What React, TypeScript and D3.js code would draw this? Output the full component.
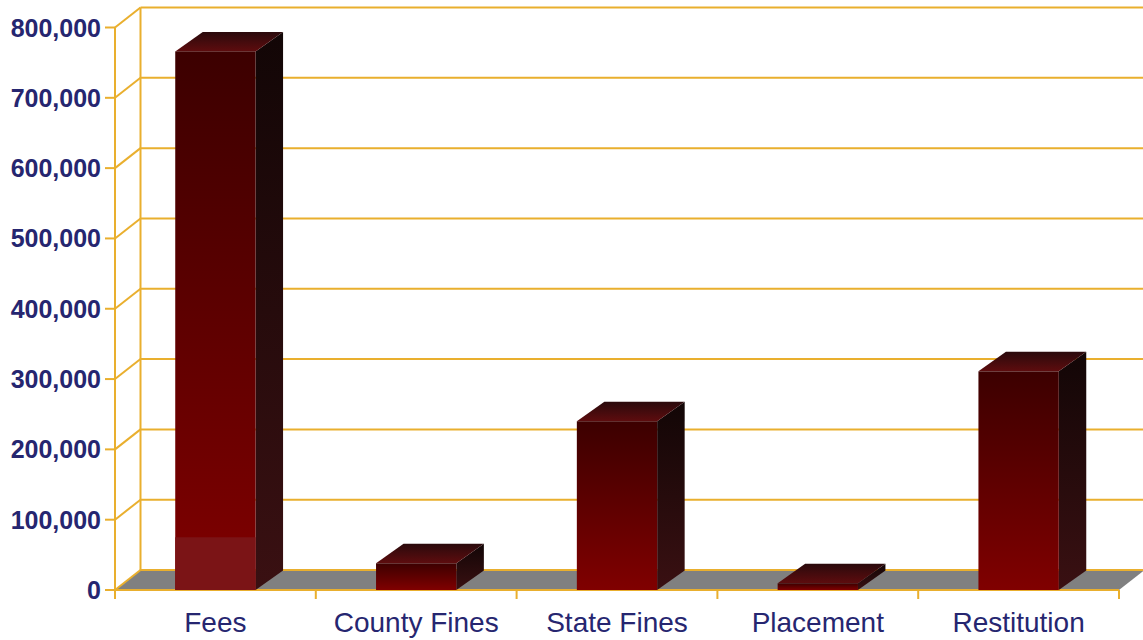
import React from "react";
import * as d3 from "d3";

const categories = ["Fees", "County Fines", "State Fines", "Placement", "Restitution"];
const values = [766000, 38000, 240000, 9500, 311000];
const lowerSegment = [75000, 0, 0, 0, 0];
const yTicks = [0, 100000, 200000, 300000, 400000, 500000, 600000, 700000, 800000];

const W = 1143;
const H = 640;
const GOLD = "#E9AF2E";
const TEXT = "#262670";

export default function App() {
  const x0 = 115;
  const x1 = 1119;
  const y = d3.scaleLinear().domain([0, 800000]).range([590, 27.5]);
  const x = d3.scaleBand<string>().domain(categories).range([x0, x1]).paddingInner(0.6).paddingOuter(0.3);
  const xo = d3.scaleBand<string>().domain(categories).range([x0, x1]);
  const wdx = 25.5, wdy = -20;
  const bdx = 27.5, bdy = -19.5;
  const fmt = d3.format(",");
  const bounds = [...categories.map((c) => xo(c) as number), x1];

  return (
    <svg width={W} height={H} style={{ position: "absolute", left: 0, top: 0, background: "#fff" }}>
      <defs>
        <linearGradient id="front" x1="0" y1="0" x2="0" y2="1">
          <stop offset="0" stopColor="#3c0000" />
          <stop offset="1" stopColor="#800000" />
        </linearGradient>
        <linearGradient id="side" x1="0" y1="0" x2="0" y2="1">
          <stop offset="0" stopColor="#120606" />
          <stop offset="1" stopColor="#3a1012" />
        </linearGradient>
        <linearGradient id="top" x1="0" y1="1" x2="0" y2="0">
          <stop offset="0" stopColor="#5e0c0e" />
          <stop offset="1" stopColor="#2a0a0c" />
        </linearGradient>
      </defs>
      {/* floor */}
      <polygon
        points={`${x0},${y(0)} ${x1},${y(0)} ${x1 + wdx},${y(0) + wdy} ${x0 + wdx},${y(0) + wdy}`}
        fill="#808080"
      />
      {/* back wall gridlines */}
      {yTicks.map((t) => (
        <g key={t}>
          <line x1={x0 + wdx} x2={W + 5} y1={y(t) + wdy} y2={y(t) + wdy} stroke={GOLD} strokeWidth={2} />
          <line x1={x0} x2={x0 + wdx} y1={y(t)} y2={y(t) + wdy} stroke={GOLD} strokeWidth={2} />
          <line x1={x0 - 10} x2={x0} y1={y(t)} y2={y(t)} stroke={GOLD} strokeWidth={2} />
          <text
            x={101}
            y={y(t) + 9}
            textAnchor="end"
            fontFamily="Liberation Sans, Arial, sans-serif"
            fontWeight="bold"
            fontSize={25}
            fill={TEXT}
          >
            {fmt(t)}
          </text>
        </g>
      ))}
      <line x1={x0 + wdx} x2={x0 + wdx} y1={y(800000) + wdy} y2={y(0) + wdy} stroke={GOLD} strokeWidth={2} />
      <line x1={x0} x2={x0} y1={y(800000)} y2={y(0) + 9} stroke={GOLD} strokeWidth={2} />
      <line x1={x0} x2={x1} y1={y(0)} y2={y(0)} stroke={GOLD} strokeWidth={2} />
      {bounds.map((b, i) => (
        <line key={i} x1={b} x2={b} y1={y(0)} y2={y(0) + 9} stroke={GOLD} strokeWidth={2} />
      ))}
      {/* bars */}
      {categories.map((c, i) => {
        const bx = x(c) as number;
        const bw = x.bandwidth();
        const yt = y(values[i]);
        const yb = y(0);
        const lower = lowerSegment[i];
        return (
          <g key={c}>
            <polygon
              points={`${bx + bw},${yt} ${bx + bw + bdx},${yt + bdy} ${bx + bw + bdx},${yb + bdy} ${bx + bw},${yb}`}
              fill="url(#side)"
            />
            <polygon
              points={`${bx},${yt} ${bx + bw},${yt} ${bx + bw + bdx},${yt + bdy} ${bx + bdx},${yt + bdy}`}
              fill="url(#top)"
            />
            <rect x={bx} y={yt} width={bw} height={yb - yt} fill="url(#front)" />
            {lower > 0 && <rect x={bx} y={y(lower)} width={bw} height={yb - y(lower)} fill="#7b1416" />}
          </g>
        );
      })}
      {/* category labels */}
      {categories.map((c) => (
        <text
          key={c}
          x={(xo(c) as number) + xo.bandwidth() / 2}
          y={632}
          textAnchor="middle"
          fontFamily="Liberation Sans, Arial, sans-serif"
          fontSize={28}
          fill={TEXT}
        >
          {c}
        </text>
      ))}
    </svg>
  );
}
